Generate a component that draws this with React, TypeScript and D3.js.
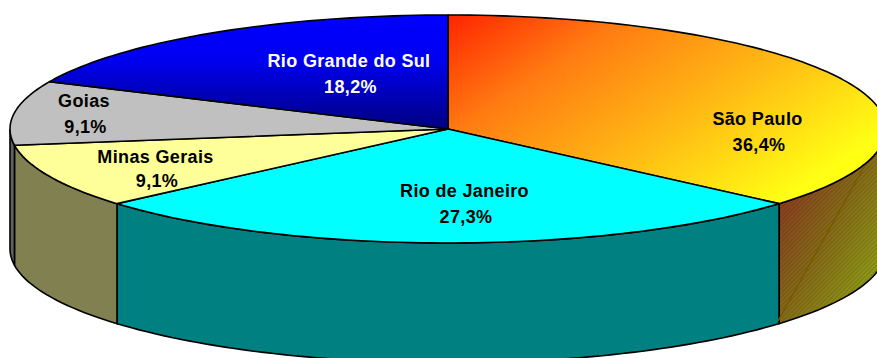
import React from "react";
import * as d3 from "d3";

const states = ["São Paulo", "Rio de Janeiro", "Minas Gerais", "Goias", "Rio Grande do Sul"];
const shares = [36.4, 27.3, 9.1, 9.1, 18.2];
const shareLabels = ["36,4%", "27,3%", "9,1%", "9,1%", "18,2%"];
const labelColors = ["#000", "#000", "#000", "#000", "#fff"];
const topFills = ["url(#spTop)", "#00ffff", "#ffff99", "#c0c0c0", "url(#rsTop)"];
const wallFills = ["url(#spWall)", "#008080", "#808050", "#606060", "#000080"];
const labelAnchors: [number, number][] = [[757.5, 119], [464.5, 191], [155.5, 157], [84, 101], [349, 61]];

const W = 877, H = 358;
const cx = 448, cy = 129, rx = 438, ry = 114, depth = 120;

const px = (a: number) => cx + rx * Math.sin(a);
const py = (a: number) => cy - ry * Math.cos(a);

const pie = d3.pie<number>().sort(null)(shares);

// Rim curve between two angles, appended onto an open d3 path.
function rim(p: d3.Path, a0: number, a1: number, dy: number) {
  const steps = Math.max(2, Math.ceil(Math.abs(a1 - a0) * 40));
  for (let i = 0; i <= steps; i++) {
    const t = a0 + ((a1 - a0) * i) / steps;
    p.lineTo(px(t), py(t) + dy);
  }
}

function topPath(a0: number, a1: number) {
  const p = d3.path();
  p.moveTo(cx, cy);
  rim(p, a0, a1, 0);
  p.closePath();
  return p.toString();
}

// Only the near half of the rim (90° to 270°) has a visible outer wall.
function wallPath(a0: number, a1: number) {
  const lo = Math.max(a0, Math.PI / 2);
  const hi = Math.min(a1, (3 * Math.PI) / 2);
  if (hi <= lo) return null;
  const p = d3.path();
  p.moveTo(px(lo), py(lo));
  rim(p, lo, hi, 0);
  rim(p, hi, lo, depth);
  p.closePath();
  return p.toString();
}

export default function App() {
  const spWall = wallPath(pie[0].startAngle, pie[0].endAngle);
  return (
    <svg
      width={W}
      height={H}
      viewBox={`0 0 ${W} ${H}`}
      style={{ position: "absolute", left: 0, top: 0, display: "block", background: "#fff" }}
    >
      <defs>
        <linearGradient id="spTop" gradientUnits="userSpaceOnUse" x1={448} y1={15} x2={637} y2={298}>
          <stop offset="0" stopColor="#ff2400" />
          <stop offset="0.3" stopColor="#ff7c12" />
          <stop offset="0.65" stopColor="#ffbb14" />
          <stop offset="1" stopColor="#ffff14" />
        </linearGradient>
        <linearGradient id="spWall" gradientUnits="userSpaceOnUse" x1={777} y1={205} x2={882} y2={263}>
          <stop offset="0" stopColor="#8a3c20" />
          <stop offset="0.5" stopColor="#866c18" />
          <stop offset="1" stopColor="#909a18" />
        </linearGradient>
        <linearGradient id="rsTop" gradientUnits="userSpaceOnUse" x1={0} y1={15} x2={0} y2={129}>
          <stop offset="0" stopColor="#0000ff" />
          <stop offset="0.4" stopColor="#0000f0" />
          <stop offset="1" stopColor="#000080" />
        </linearGradient>
        {/* Fine diagonal dither laid over the graded wall */}
        <pattern id="dither" width={3} height={3} patternUnits="userSpaceOnUse" patternTransform="rotate(45)">
          <rect width={1} height={3} fill="#000" fillOpacity={0.14} />
        </pattern>
      </defs>
      {pie.map((s, i) => {
        const d = wallPath(s.startAngle, s.endAngle);
        return d ? <path key={states[i]} d={d} fill={wallFills[i]} stroke="#000" strokeWidth={1.6} /> : null;
      })}
      {spWall ? <path d={spWall} fill="url(#dither)" /> : null}
      <line x1={778} y1={321} x2={864} y2={167} stroke="#7a5800" strokeWidth={1.5} />
      {pie.map((s, i) => (
        <path key={states[i]} d={topPath(s.startAngle, s.endAngle)} fill={topFills[i]} stroke="#000" strokeWidth={1.6} strokeLinejoin="round" />
      ))}
      {states.map((name, i) => (
        <text
          key={name}
          textAnchor="middle"
          fontFamily="Liberation Sans, Arial, sans-serif"
          fontWeight={700}
          fontSize={18}
          letterSpacing={0.35}
          fill={labelColors[i]}
        >
          <tspan x={labelAnchors[i][0]} y={labelAnchors[i][1] + 6}>{name}</tspan>
          <tspan x={labelAnchors[i][0] + 1.5} y={labelAnchors[i][1] + (i === 2 ? 30 : 32)}>{shareLabels[i]}</tspan>
        </text>
      ))}
    </svg>
  );
}
